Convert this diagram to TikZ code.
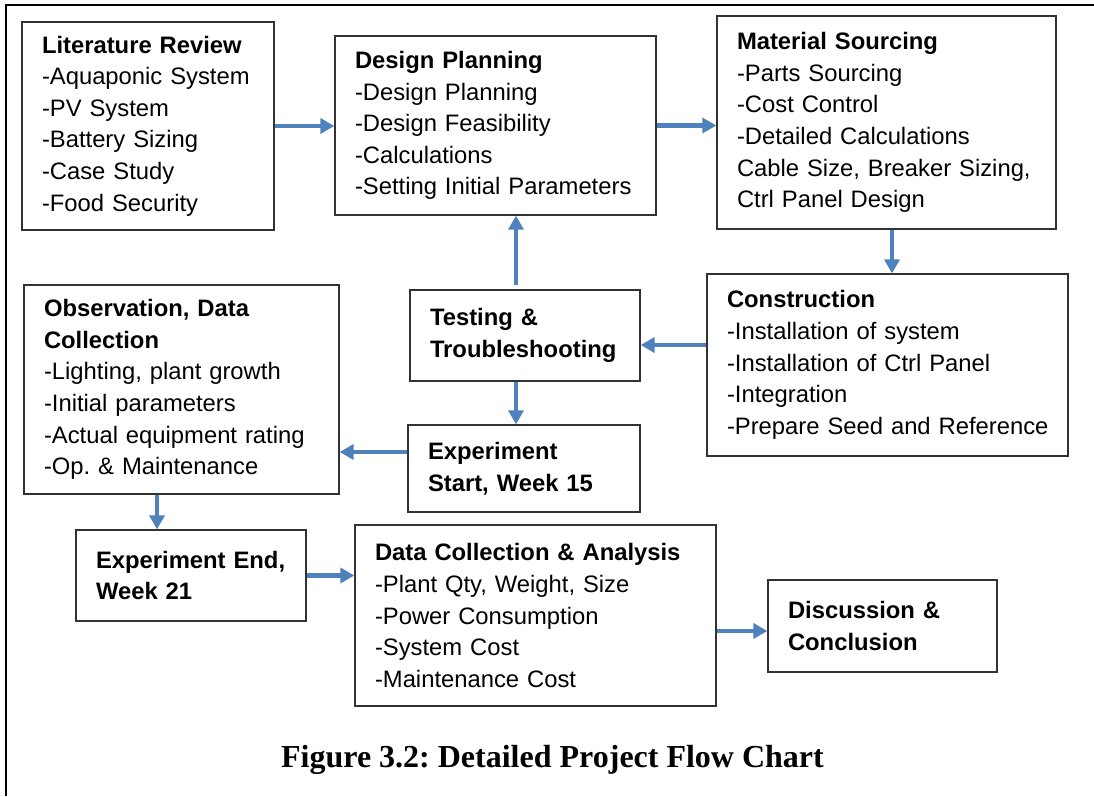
\documentclass[tikz,border=0pt]{standalone}
\usepackage{fontspec}
\setmainfont{Liberation Sans}
\newfontfamily\captionfont{Liberation Serif}
\usetikzlibrary{arrows.meta}
\definecolor{flowblue}{RGB}{79,129,189}
\frenchspacing
\hyphenpenalty=10000
\exhyphenpenalty=10000

\begin{document}
\begin{tikzpicture}[x=1pt, y=-1pt]
    \tikzstyle{box}=[draw=black!80, line width=1.3pt, align=left, inner xsep=20pt, inner ysep=6pt, font=\fontsize{23.8}{31.6}\selectfont];
    \tikzstyle{flow}=[draw=flowblue, line width=4.5pt, -{Triangle[length=14pt, width=15pt]}];

    \useasboundingbox (0,0) rectangle (1094,796);
    \draw[line width=1.3pt] (6,796) -- (6,5) -- (1094,5);

    \node at (148.0, 126.0) (lit)    [box, text width=212pt, minimum height=208pt] {\textbf{Literature Review}\\-Aquaponic System\\-PV System\\-Battery Sizing\\-Case Study\\-Food Security};
    \node at (495.5, 125.5) (design) [box, text width=281pt, minimum height=179pt] {\textbf{Design Planning}\\-Design Planning\\-Design Feasibility\\-Calculations\\-Setting Initial Parameters};
    \node at (886.5, 122.5) (mat)    [box, text width=299pt, minimum height=213pt] {\textbf{Material Sourcing}\\-Parts Sourcing\\-Cost Control\\-Detailed Calculations\\Cable Size, Breaker Sizing,\\Ctrl Panel Design};
    \node at (887.5, 365.0) (cons)   [box, text width=321pt, minimum height=182pt] {\textbf{Construction}\\-Installation of system\\-Installation of Ctrl Panel\\-Integration\\-Prepare~Seed~and~Reference};
    \node at (525.0, 335.5) (test)   [box, text width=190pt, minimum height=91pt]  {\textbf{Testing \&}\\\textbf{Troubleshooting}};
    \node at (181.5, 389.5) (obs)    [box, text width=275pt, minimum height=209pt] {\textbf{Observation, Data}\\\textbf{Collection}\\-Lighting, plant growth\\-Initial parameters\\-Actual equipment rating\\-Op. \& Maintenance};
    \node at (524.0, 468.5) (start)  [box, text width=192pt, minimum height=87pt]  {\textbf{Experiment}\\\textbf{Start, Week 15}};
    \node at (191.0, 575.5) (end)    [box, text width=190pt, minimum height=91pt]  {\textbf{Experiment~End,}\\\textbf{Week 21}};
    \node at (535.5, 615.5) (data)   [box, text width=321pt, minimum height=181pt] {\textbf{Data Collection \& Analysis}\\-Plant Qty, Weight, Size\\-Power Consumption\\-System Cost\\-Maintenance Cost};
    \node at (882.5, 626.0) (disc)   [box, text width=189pt, minimum height=92pt]  {\textbf{Discussion \&}\\\textbf{Conclusion}};

    \node at (552.5, 767) (caption) [anchor=base, font=\captionfont\bfseries\fontsize{32}{38}\selectfont] {Figure 3.2: Detailed Project Flow Chart};

    \coordinate (ms) at ([xshift=5.5pt]mat.south);
    \coordinate (te) at ([yshift=-9.5pt]test.east);
    \coordinate (tn) at ([xshift=-9pt]test.north);
    \coordinate (ts) at ([xshift=-9pt]test.south);
    \coordinate (sw) at ([yshift=16.5pt]start.west);
    \coordinate (os) at ([xshift=-24.5pt]obs.south);
    \coordinate (dw) at ([yshift=-5pt]disc.west);

    \draw[flow] (lit.east) -- (lit.east -| design.west);
    \draw[flow] (design.east) -- (design.east -| mat.west);
    \draw[flow] (ms) -- (ms |- cons.north);
    \draw[flow] (te -| cons.west) -- (te);
    \draw[flow] ([yshift=4pt]tn) -- (tn |- design.south);
    \draw[flow] (ts) -- (ts |- start.north);
    \draw[flow] (sw) -- (sw -| obs.east);
    \draw[flow] (os) -- (os |- end.north);
    \draw[flow] (end.east) -- (end.east -| data.west);
    \draw[flow] (dw -| data.east) -- (dw);
\end{tikzpicture}
\end{document}
